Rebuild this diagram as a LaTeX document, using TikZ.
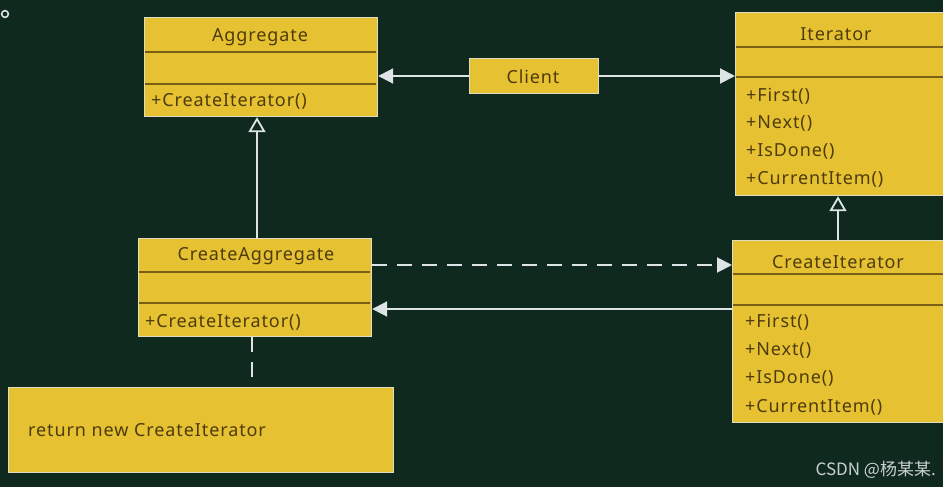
\documentclass[tikz,border=0pt]{standalone}
\usepackage{fontspec}
\setmainfont{Noto Sans}[LetterSpace=5]
\newfontfamily\cjk{Noto Sans CJK SC}
\usetikzlibrary{arrows.meta}
\definecolor{bg}{HTML}{10291F}
\definecolor{boxfill}{HTML}{E6C232}
\definecolor{txt}{HTML}{4E3C0C}
\definecolor{wire}{HTML}{DCE4E6}
\definecolor{divc}{HTML}{7A5E16}
\tikzset{
  x=1pt, y=-1pt,
  cls/.style={draw=wire!80!boxfill, line width=1.2pt, fill=boxfill, anchor=north west, inner sep=0pt},
  divline/.style={draw=divc, line width=1.4pt},
  ttl/.style={text=txt, font=\fontsize{18}{20}\selectfont, inner sep=0pt},
  meth/.style={text=txt, font=\fontsize{18}{20}\selectfont, inner sep=0pt, anchor=west},
  wireline/.style={draw=wire, line width=2pt},
  solidarr/.style={wireline, -{Triangle[length=15pt, width=15pt, fill=wire]}},
  inherit/.style={wireline, -{Triangle[open, length=15pt, width=17pt, fill=bg, line width=1.8pt]}},
  dasharr/.style={wireline, dash pattern=on 15pt off 10pt, -{Triangle[length=15pt, width=15pt, fill=wire]}},
  dashline/.style={wireline, dash pattern=on 15pt off 10pt}
}
\begin{document}
\begin{tikzpicture}
\useasboundingbox (0,0) rectangle (943,487);
\fill[bg] (0,0) rectangle (943,487);
\draw[wire, line width=1.6pt] (5,14) circle (3.4pt);

% Aggregate
\node[cls, minimum width=233pt, minimum height=99pt] (agg) at (144,17) {};
\draw[divline] (145,52) -- (376,52);
\draw[divline] (145,84) -- (376,84);
\node[ttl] (aggT) at (260,37) {Aggregate};
\node[meth] (aggM) at (151,101) {+CreateIterator()};

% Client
\node[cls, minimum width=129pt, minimum height=35pt] (client) at (469,58) {};
\node[ttl] (clientT) at (533,77) {Client};

% Iterator
\node[cls, minimum width=220pt, minimum height=183pt] (it) at (735,12) {};
\draw[divline] (736,47) -- (943,47);
\draw[divline] (736,77) -- (943,77);
\node[ttl] (itT) at (836,34) {Iterator};
\node[meth] (itM1) at (746,96) {+First()};
\node[meth] (itM2) at (746,123) {+Next()};
\node[meth] (itM3) at (746,151) {+IsDone()};
\node[meth] (itM4) at (746,179) {+CurrentItem()};

% CreateAggregate
\node[cls, minimum width=233pt, minimum height=98pt] (cagg) at (138,238) {};
\draw[divline] (139,272) -- (370,272);
\draw[divline] (139,303) -- (370,303);
\node[ttl] (caggT) at (256,256) {CreateAggregate};
\node[meth] (caggM) at (145,322) {+CreateIterator()};

% CreateIterator
\node[cls, minimum width=220pt, minimum height=182pt] (cit) at (732,240) {};
\draw[divline] (733,274) -- (943,274);
\draw[divline] (733,305) -- (943,305);
\node[ttl] (citT) at (838,262) {CreateIterator};
\node[meth] (citM1) at (745,322) {+First()};
\node[meth] (citM2) at (745,350) {+Next()};
\node[meth] (citM3) at (745,378) {+IsDone()};
\node[meth] (citM4) at (745,407) {+CurrentItem()};

% Note
\node[cls, minimum width=385pt, minimum height=85pt] (note) at (8,387) {};
\node[meth] (noteT) at (28,430) {return new CreateIterator};

% connectors
\draw[solidarr] (client.west |- 0,76) -- (agg.east |- 0,76);
\draw[solidarr] (client.east |- 0,76) -- (it.west |- 0,76);
\draw[inherit] (cagg.north -| 257,0) -- (agg.south -| 257,0);
\draw[inherit] (cit.north -| 838,0) -- (it.south -| 838,0);
\draw[dasharr] (cagg.east |- 0,265) -- (cit.west |- 0,265);
\draw[solidarr] (cit.west |- 0,309) -- (cagg.east |- 0,309);
\draw[dashline] (cagg.south -| 252,0) -- (note.north -| 252,0);

% watermark
\node[text=wire!90!bg, font=\fontsize{17}{19}\selectfont\cjk, anchor=east, inner sep=0pt] (wm) at (936,470) {CSDN @杨某某.};
\end{tikzpicture}
\end{document}
